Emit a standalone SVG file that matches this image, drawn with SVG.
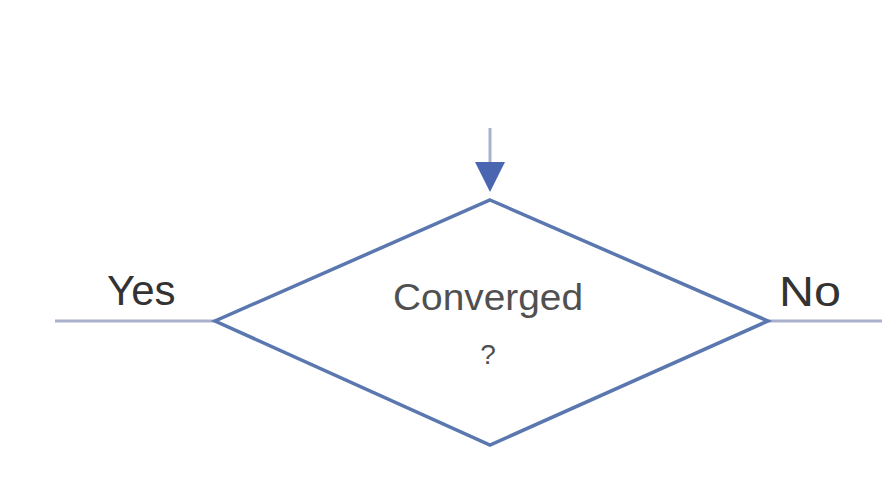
<svg xmlns="http://www.w3.org/2000/svg" width="882" height="480" viewBox="0 0 882 480">
<defs>
<style>
.lbl{font-family:"Liberation Sans",Arial,sans-serif;fill:#333333}
.in{font-family:"Liberation Sans",Arial,sans-serif;fill:#505050}
.conn{stroke:#a9b1cc;stroke-width:3;fill:none}
</style>
</defs>
<rect width="882" height="480" fill="#ffffff"/>
<g id="connectors">
<line class="conn" x1="490" y1="128" x2="490" y2="166"/>
<polygon points="475,162 505,162 490,192" fill="#4a66b0"/>
<line class="conn" x1="55" y1="321" x2="215" y2="321"/>
<line class="conn" x1="768" y1="321" x2="882" y2="321"/>
</g>
<g id="decision">
<polygon points="490,200 768,321 490,445 215,321" fill="#ffffff" stroke="#5b77b0" stroke-width="3.5"/>
<text class="in" x="488" y="310" font-size="36" text-anchor="middle" textLength="190" lengthAdjust="spacingAndGlyphs">Converged</text>
<text class="in" x="488" y="364" font-size="28" text-anchor="middle">?</text>
</g>
<g id="label-yes"><text class="lbl" x="107" y="305" font-size="42">Yes</text></g>
<g id="label-no"><text class="lbl" x="779" y="306" font-size="43" textLength="62" lengthAdjust="spacingAndGlyphs">No</text></g>
</svg>
